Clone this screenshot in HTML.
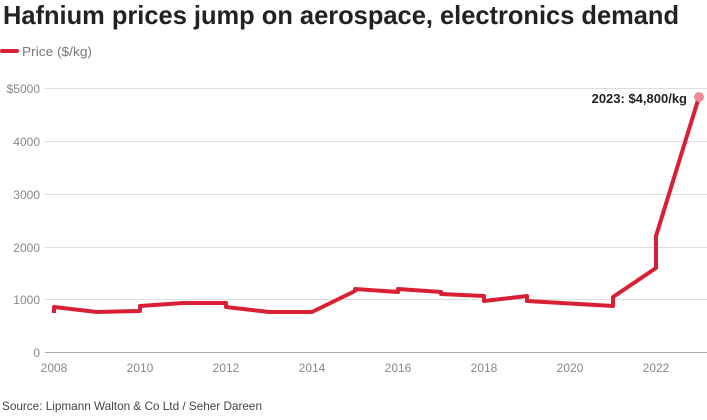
<!DOCTYPE html>
<html><head><meta charset="utf-8"><style>
body{margin:0;background:#fff;width:707px;height:415px;overflow:hidden;font-family:"Liberation Sans",sans-serif}
</style></head><body>
<svg width="707" height="415" xmlns="http://www.w3.org/2000/svg" font-family="Liberation Sans, sans-serif">
<text x="3" y="24" font-size="26" font-weight="bold" fill="#222" textLength="676" lengthAdjust="spacingAndGlyphs">Hafnium prices jump on aerospace, electronics demand</text>
<line x1="2" y1="51" x2="17" y2="51" stroke="#d91f34" stroke-width="4" stroke-linecap="round"/>
<text x="22" y="56" font-size="13" fill="#777" textLength="70" lengthAdjust="spacingAndGlyphs">Price ($/kg)</text>
<g stroke="#ddd" stroke-width="1">
<line x1="45" y1="88.5" x2="707" y2="88.5"/><line x1="45" y1="141.5" x2="707" y2="141.5"/><line x1="45" y1="194.5" x2="707" y2="194.5"/><line x1="45" y1="247.5" x2="707" y2="247.5"/><line x1="45" y1="299.5" x2="707" y2="299.5"/>
</g>
<line x1="45" y1="352.5" x2="707" y2="352.5" stroke="#aaa"/>
<g font-size="12" fill="#888" text-anchor="end">
<text x="40" y="93">$5000</text><text x="40" y="146">4000</text><text x="40" y="199">3000</text><text x="40" y="252">2000</text><text x="40" y="304">1000</text><text x="40" y="357">0</text>
</g>
<g font-size="12" fill="#888" text-anchor="middle">
<text x="54" y="372">2008</text><text x="140" y="372">2010</text><text x="226" y="372">2012</text><text x="312" y="372">2014</text><text x="398" y="372">2016</text><text x="484" y="372">2018</text><text x="570" y="372">2020</text><text x="656" y="372">2022</text>
</g>
<polyline fill="none" stroke="#d91f34" stroke-width="4" stroke-linejoin="round" points="54,313 54,307 97,312 140,311 140,306 183,303 226,303 226,307 269,312 312,312 355,291 355,289 398,292 398,289 441,292 441,294 484,296 484,301 527,296 527,301 613,306 613,297 656,268 656,236 699,97"/>
<circle cx="699" cy="97" r="5" fill="#f08a95"/>
<text x="687" y="103" font-size="13" font-weight="bold" fill="#222" text-anchor="end">2023: $4,800/kg</text>
<text x="2" y="410" font-size="12" fill="#444" textLength="260" lengthAdjust="spacingAndGlyphs">Source: Lipmann Walton &amp; Co Ltd / Seher Dareen</text>
</svg>
</body></html>
